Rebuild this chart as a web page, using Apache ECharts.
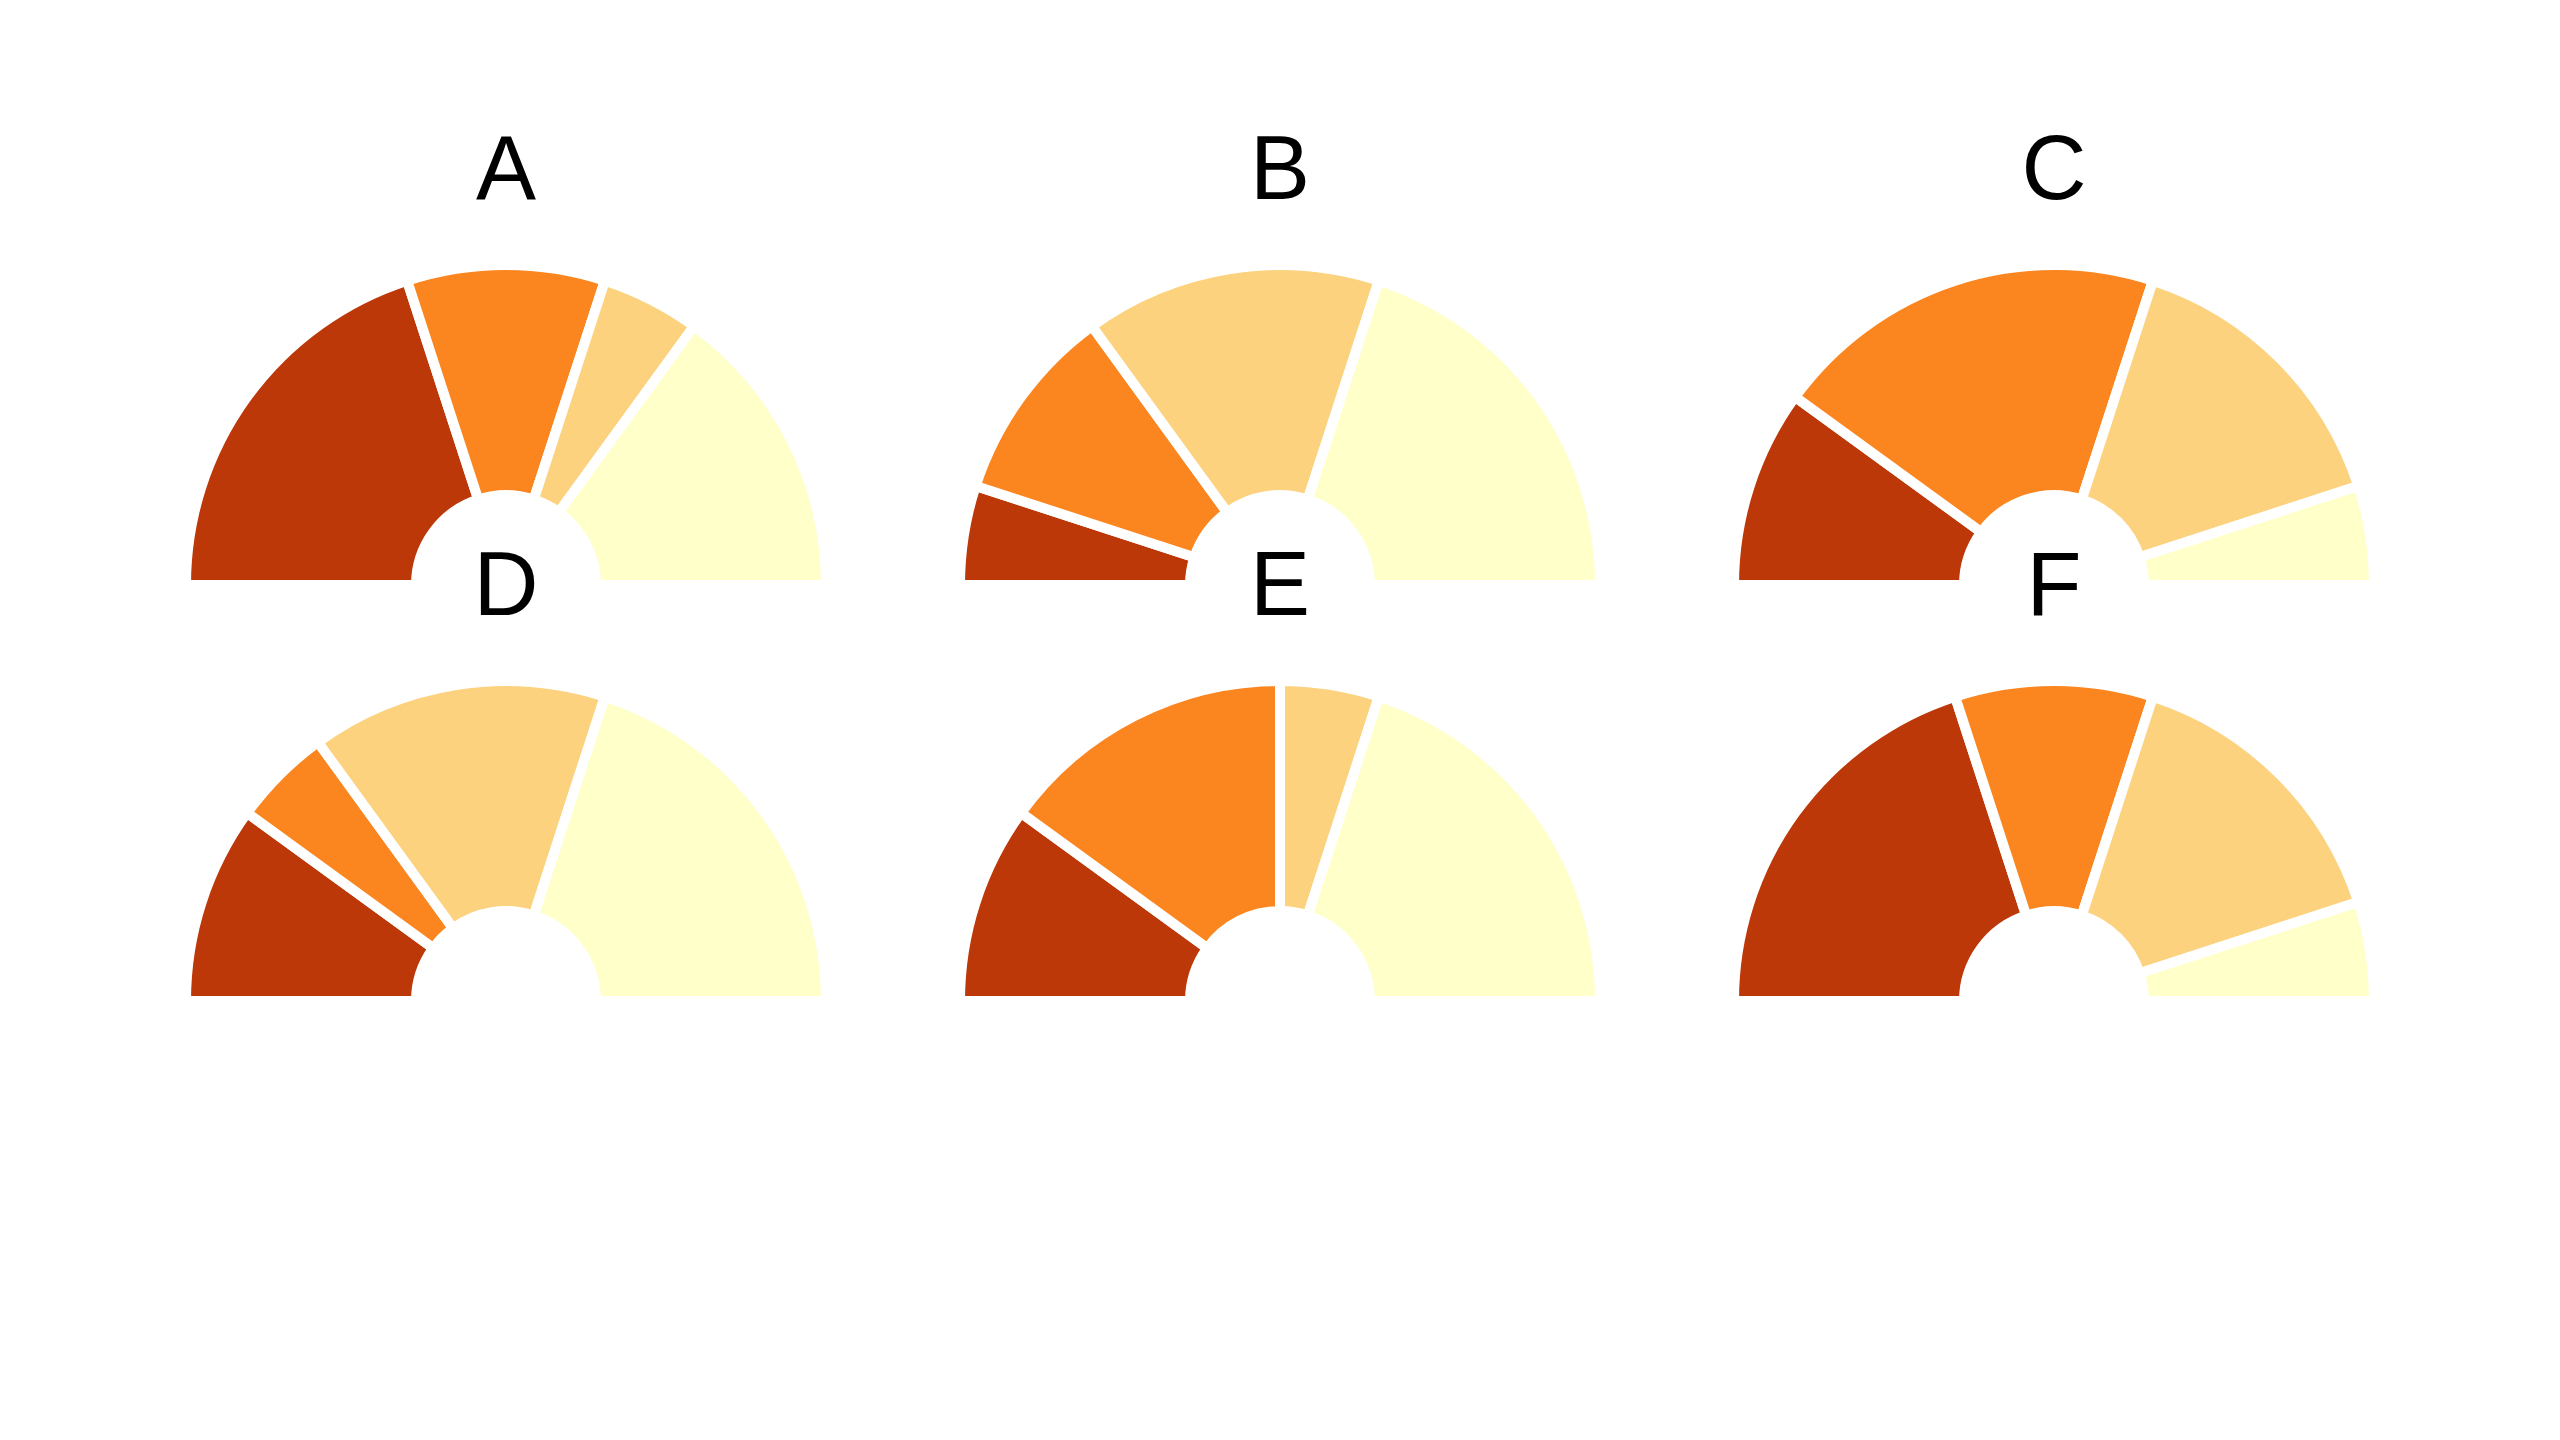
<!DOCTYPE html>
<html><head><meta charset="utf-8">
<script src="https://cdn.jsdelivr.net/npm/echarts@6/dist/echarts.min.js"></script>
<style>html,body{margin:0;padding:0;background:#fff}#c{width:2560px;height:1440px}</style>
</head><body><div id="c"></div>
<script>
const panelLabels = ['A','B','C','D','E','F'];
const segmentNames = ['s1','s2','s3','s4'];
const valuesA = [4,2,1,3];
const valuesB = [1,2,3,4];
const valuesC = [2,4,3,1];
const valuesD = [2,1,3,4];
const valuesE = [2,3,1,4];
const valuesF = [4,2,3,1];
const allValues = [valuesA,valuesB,valuesC,valuesD,valuesE,valuesF];
const colors = ['#bd3808','#fb8620','#fcd27e','#ffffc9'];

const colX = [506,1280,2054];
const rowY = [585,1001];
const labelOffset = -411;

const series = [];
const graphics = [];
allValues.forEach((vals,i)=>{
  const cx = colX[i%3], cy = rowY[Math.floor(i/3)];
  series.push({
    type:'pie',
    center:[cx,cy],
    radius:[90,320],
    startAngle:180,
    endAngle:0,
    clockwise:true,
    silent:true,
    label:{show:false},
    labelLine:{show:false},
    itemStyle:{borderColor:'#fff',borderWidth:10},
    data: vals.map((v,j)=>({name:segmentNames[j],value:v,itemStyle:{color:colors[j]}}))
  });
  graphics.push({
    type:'text', x:cx, y:cy+labelOffset, z:100,
    style:{text:panelLabels[i], fill:'#000', font:'90px "Liberation Sans", Arial, sans-serif', textAlign:'center', textVerticalAlign:'middle'}
  });
});

const chart = echarts.init(document.getElementById('c'));
chart.setOption({
  backgroundColor:'#fff',
  animation:false,
  series,
  graphic:graphics
});
</script></body></html>
